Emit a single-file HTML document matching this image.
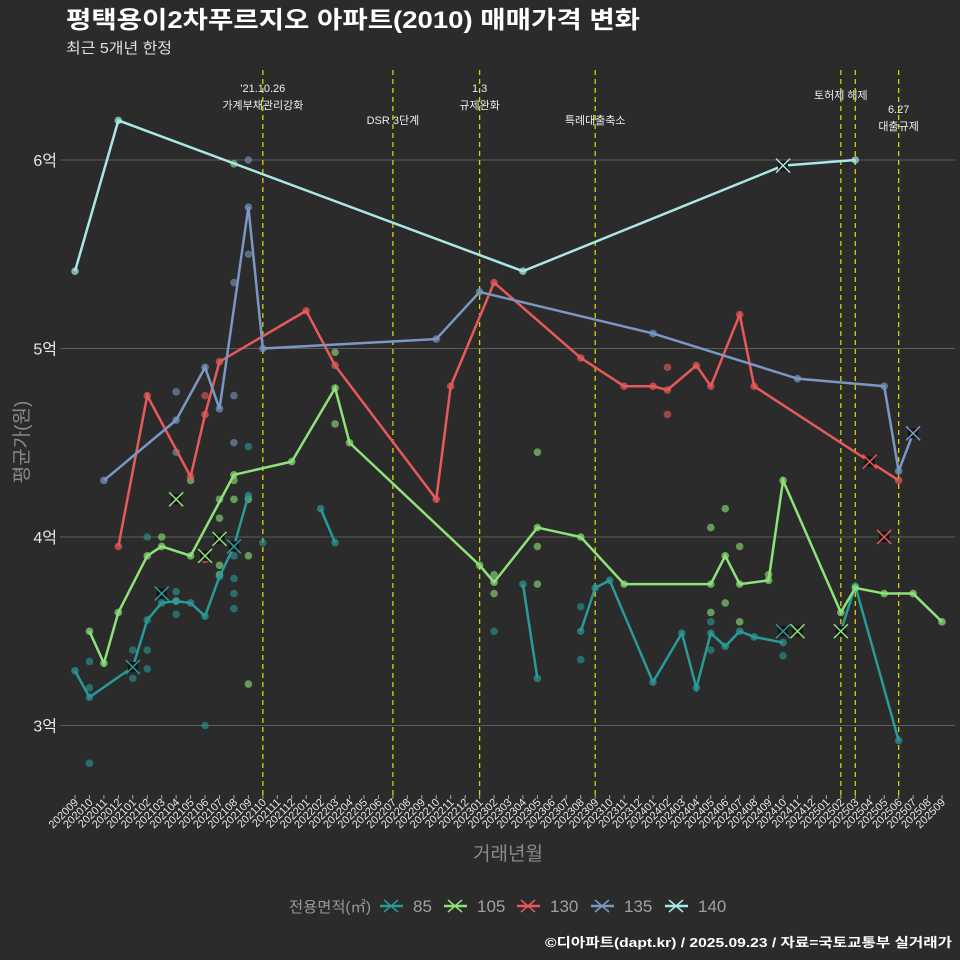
<!DOCTYPE html>
<html><head><meta charset="utf-8">
<style>
body{margin:0;background:#2b2b2b;}
svg{display:block;font-family:"Liberation Sans","Noto Sans CJK KR",sans-serif;}
</style></head>
<body>
<svg id="chart" width="960" height="960" viewBox="0 0 960 960">
<rect width="960" height="960" fill="#2b2b2b"/>
<text x="66" y="28" fill="#ffffff" font-size="24" font-weight="bold" textLength="574" lengthAdjust="spacingAndGlyphs">평택용이2차푸르지오 아파트(2010) 매매가격 변화</text>
<text x="66" y="53" fill="#e0e0e0" font-size="15" textLength="106" lengthAdjust="spacingAndGlyphs">최근 5개년 한정</text>
<g id="grid"></g>
<g id="events"></g>
<g id="dots"></g>
<g id="lines"></g>
<g id="xaxis"></g>
<text x="508" y="860" fill="#8a8a8a" font-size="19" text-anchor="middle">거래년월</text>
<text transform="translate(28,442) rotate(-90)" fill="#8a8a8a" font-size="19" text-anchor="middle">평균가(원)</text>
<g id="legend"></g>
<text x="952" y="947" fill="#ffffff" font-size="13" font-weight="bold" text-anchor="end" textLength="407" lengthAdjust="spacingAndGlyphs">©디아파트(dapt.kr) / 2025.09.23 / 자료=국토교통부 실거래가</text>
</svg>
<script>
const months = [];
for (let y = 2020, m = 9; months.length < 61; m++) { if (m > 12) { m = 1; y++; } months.push(y + String(m).padStart(2, '0')); }
const yTicks = [3, 4, 5, 6];
const yTickLabels = ['3억', '4억', '5억', '6억'];
const seriesNames = ['85', '105', '130', '135', '140'];
const seriesColors = ['#2a9a98', '#8ee27a', '#e85a5a', '#7b97c4', '#a9e8e4'];
// each series: segments of [monthIndex, value(억)]
const s85 = [[[0,3.29],[1,3.15],[4,3.31],[5,3.56],[6,3.65],[7,3.66],[8,3.65],[9,3.58],[10,3.79],[11,3.95],[12,4.22]],
  [[17,4.15],[18,3.97]],[[31,3.75],[32,3.25]],
  [[35,3.5],[36,3.73],[37,3.77],[40,3.23],[42,3.49],[43,3.20],[44,3.49],[45,3.42],[46,3.50],[47,3.47],[49,3.44]],
  [[53,3.50],[54,3.74],[57,2.92]]];
const s105 = [[[1,3.50],[2,3.33],[3,3.60],[5,3.90],[6,3.95],[8,3.90],[11,4.33],[15,4.40],[18,4.79],[19,4.50],[28,3.85],[29,3.76],[32,4.05],[35,4.0],[38,3.75],[44,3.75],[45,3.90],[46,3.75],[48,3.77],[49,4.30],[53,3.60],[54,3.73],[56,3.70],[58,3.70],[60,3.55]]];
const s130 = [[[3,3.95],[5,4.75],[8,4.32],[9,4.65],[10,4.93],[16,5.20],[18,4.91],[25,4.20],[26,4.80],[29,5.35],[35,4.95],[38,4.80],[40,4.80],[41,4.78],[43,4.91],[44,4.80],[46,5.18],[47,4.80],[57,4.30]]];
const s135 = [[[2,4.30],[7,4.62],[9,4.90],[10,4.68],[12,5.75],[13,5.0],[25,5.05],[28,5.30],[40,5.08],[50,4.84],[56,4.80],[57,4.35],[58,4.55]]];
const s140 = [[[0,5.41],[3,6.21],[31,5.41],[49,5.97],[54,6.0]]];
const seriesData = [s85, s105, s130, s135, s140];
// single trade markers (X) [series, month, value]
const crosses = [[0,4,3.31],[0,11,3.95],[0,6,3.70],[1,7,4.20],[1,9,3.90],[1,10,3.99],[0,49,3.50],[1,50,3.50],[1,53,3.50],[4,49,5.97],[2,55,4.40],[2,56,4.0],[3,58,4.55]];
// individual trades dots [series, month, value]
const dots = [[0,1,3.20],[0,1,3.34],[0,1,2.80],[0,4,3.40],[0,4,3.25],[0,5,3.30],[0,5,3.40],[0,5,4.0],[0,7,3.71],[0,7,3.59],[0,9,3.0],[0,11,3.90],[0,11,3.78],[0,11,3.70],[0,11,3.62],[0,13,3.97],[0,12,4.48],
[1,6,4.0],[1,7,3.66],[1,8,4.30],[1,10,4.20],[1,10,4.10],[1,10,3.85],[1,10,3.80],[1,11,4.20],[1,11,4.30],[1,12,4.20],[1,12,3.90],[1,12,3.22],[1,11,5.98],[1,18,4.60],[1,18,4.98],[1,29,3.70],[1,29,3.80],[1,32,4.45],[1,32,3.95],[1,32,3.75],[1,44,4.05],[1,44,3.60],[1,45,4.15],[1,45,3.65],[1,46,3.95],[1,46,3.55],[1,48,3.80],
[0,29,3.50],[0,35,3.63],[0,35,3.35],[0,44,3.55],[0,44,3.40],[0,49,3.37],
[2,9,4.75],[2,9,3.88],[2,41,4.90],[2,41,4.65],
[3,7,4.77],[3,7,4.45],[3,11,4.75],[3,11,4.50],[3,11,5.35],[3,12,5.50],[3,12,6.0]];
const eventIdx = [13, 22, 28, 36, 53, 54, 57];
const eventLabels = [["'21.10.26","가계부채관리강화",92],["DSR 3단계",null,124],["1.3","규제완화",92],["특례대출축소",null,124],["토허제 해제",null,99],[null,null,0],["6.27","대출규제",113]];

const NS = 'http://www.w3.org/2000/svg';
const X = i => 75 + i * 14.45;
const Y = v => 160 + (6 - v) * 188.5;
function mk(tag, attrs, parent) { const e = document.createElementNS(NS, tag); for (const k in attrs) e.setAttribute(k, attrs[k]); parent.appendChild(e); return e; }
const grid = document.getElementById('grid');
yTicks.forEach((t, k) => {
  const l = mk('line', {x1: 60, x2: 955, y1: Y(t), y2: Y(t), stroke: '#5c5c5c', 'stroke-width': 1}, grid);
  
  
  const tx = mk('text', {x: 57, y: Y(t) + 6, fill: '#e8e8e8', 'font-size': 16, 'text-anchor': 'end'}, grid);
  tx.textContent = yTickLabels[k];
  
  
});
const ev = document.getElementById('events');
eventIdx.forEach((i, k) => {
  const l = mk('line', {x1: X(i), x2: X(i), y1: 70, y2: 795, stroke: '#d4d400', 'stroke-width': 1.3, 'stroke-dasharray': '5,4'}, ev);
  
  
  const [a, b, yy] = eventLabels[k];
  if (a) {
    const t = mk('text', {x: X(i), y: yy, fill: '#eeeeee', 'font-size': 11, 'text-anchor': 'middle'}, ev);
    t.textContent = a;
    
    
  }
  if (b) {
    const t = mk('text', {x: X(i), y: yy + 17, fill: '#eeeeee', 'font-size': 11, 'text-anchor': 'middle'}, ev);
    t.textContent = b;
    
    
  }
});
const dg = document.getElementById('dots');
dots.forEach(([s, i, v]) => {
  const c = mk('circle', {cx: X(i), cy: Y(v), r: 3.8, fill: seriesColors[s], opacity: 0.6}, dg);
  
  
});
const lg = document.getElementById('lines');
seriesData.forEach((segs, s) => {
  segs.forEach(seg => {
    const p = mk('polyline', {points: seg.map(([i, v]) => X(i) + ',' + Y(v)).join(' '), fill: 'none', stroke: seriesColors[s], 'stroke-width': 2.5}, lg);
    
    
    seg.forEach(([i, v]) => {
      const c = mk('circle', {cx: X(i), cy: Y(v), r: 3.8, fill: seriesColors[s], opacity: 0.7}, lg);
      
      
    });
  });
});
crosses.forEach(([s, i, v]) => {
  const x = X(i), y = Y(v);
  const g = mk('g', {}, lg);
  
  
  mk('rect', {x: x - 5, y: y - 5, width: 10, height: 10, fill: '#111'}, g);
  mk('path', {d: `M${x-7},${y-7}L${x+7},${y+7}M${x-7},${y+7}L${x+7},${y-7}`, stroke: seriesColors[s], 'stroke-width': 1.5}, g);
});
const xa = document.getElementById('xaxis');
months.forEach((m, i) => {
  mk('line', {x1: X(i), x2: X(i), y1: 795, y2: 799, stroke: '#aaa', 'stroke-width': 1}, xa);
  const t = mk('text', {transform: `translate(${X(i) + 4},803) rotate(-45)`, fill: '#e8e8e8', 'font-size': 11, 'text-anchor': 'end'}, xa);
  t.textContent = m;
  
  
});
const leg = document.getElementById('legend');
const lt = mk('text', {x: 289, y: 912, fill: '#9a9a9a', 'font-size': 15, textLength: 82, lengthAdjust: 'spacingAndGlyphs'}, leg);
lt.textContent = '전용면적(㎡)';


const legX = [391, 455, 528, 602, 676];
seriesNames.forEach((n, s) => {
  const x = legX[s], y = 906;
  const g = mk('g', {}, leg);
  
  
  mk('line', {x1: x - 11, x2: x + 12, y1: y, y2: y, stroke: seriesColors[s], 'stroke-width': 2.5}, g);
  mk('path', {d: `M${x-7},${y-6}L${x+7},${y+6}M${x-7},${y+6}L${x+7},${y-6}`, stroke: seriesColors[s], 'stroke-width': 1.5}, g);
  const t = mk('text', {x: x + 22, y: y + 6, fill: '#a0a0a0', 'font-size': 17}, g);
  t.textContent = n;
});
</script>
</body></html>
